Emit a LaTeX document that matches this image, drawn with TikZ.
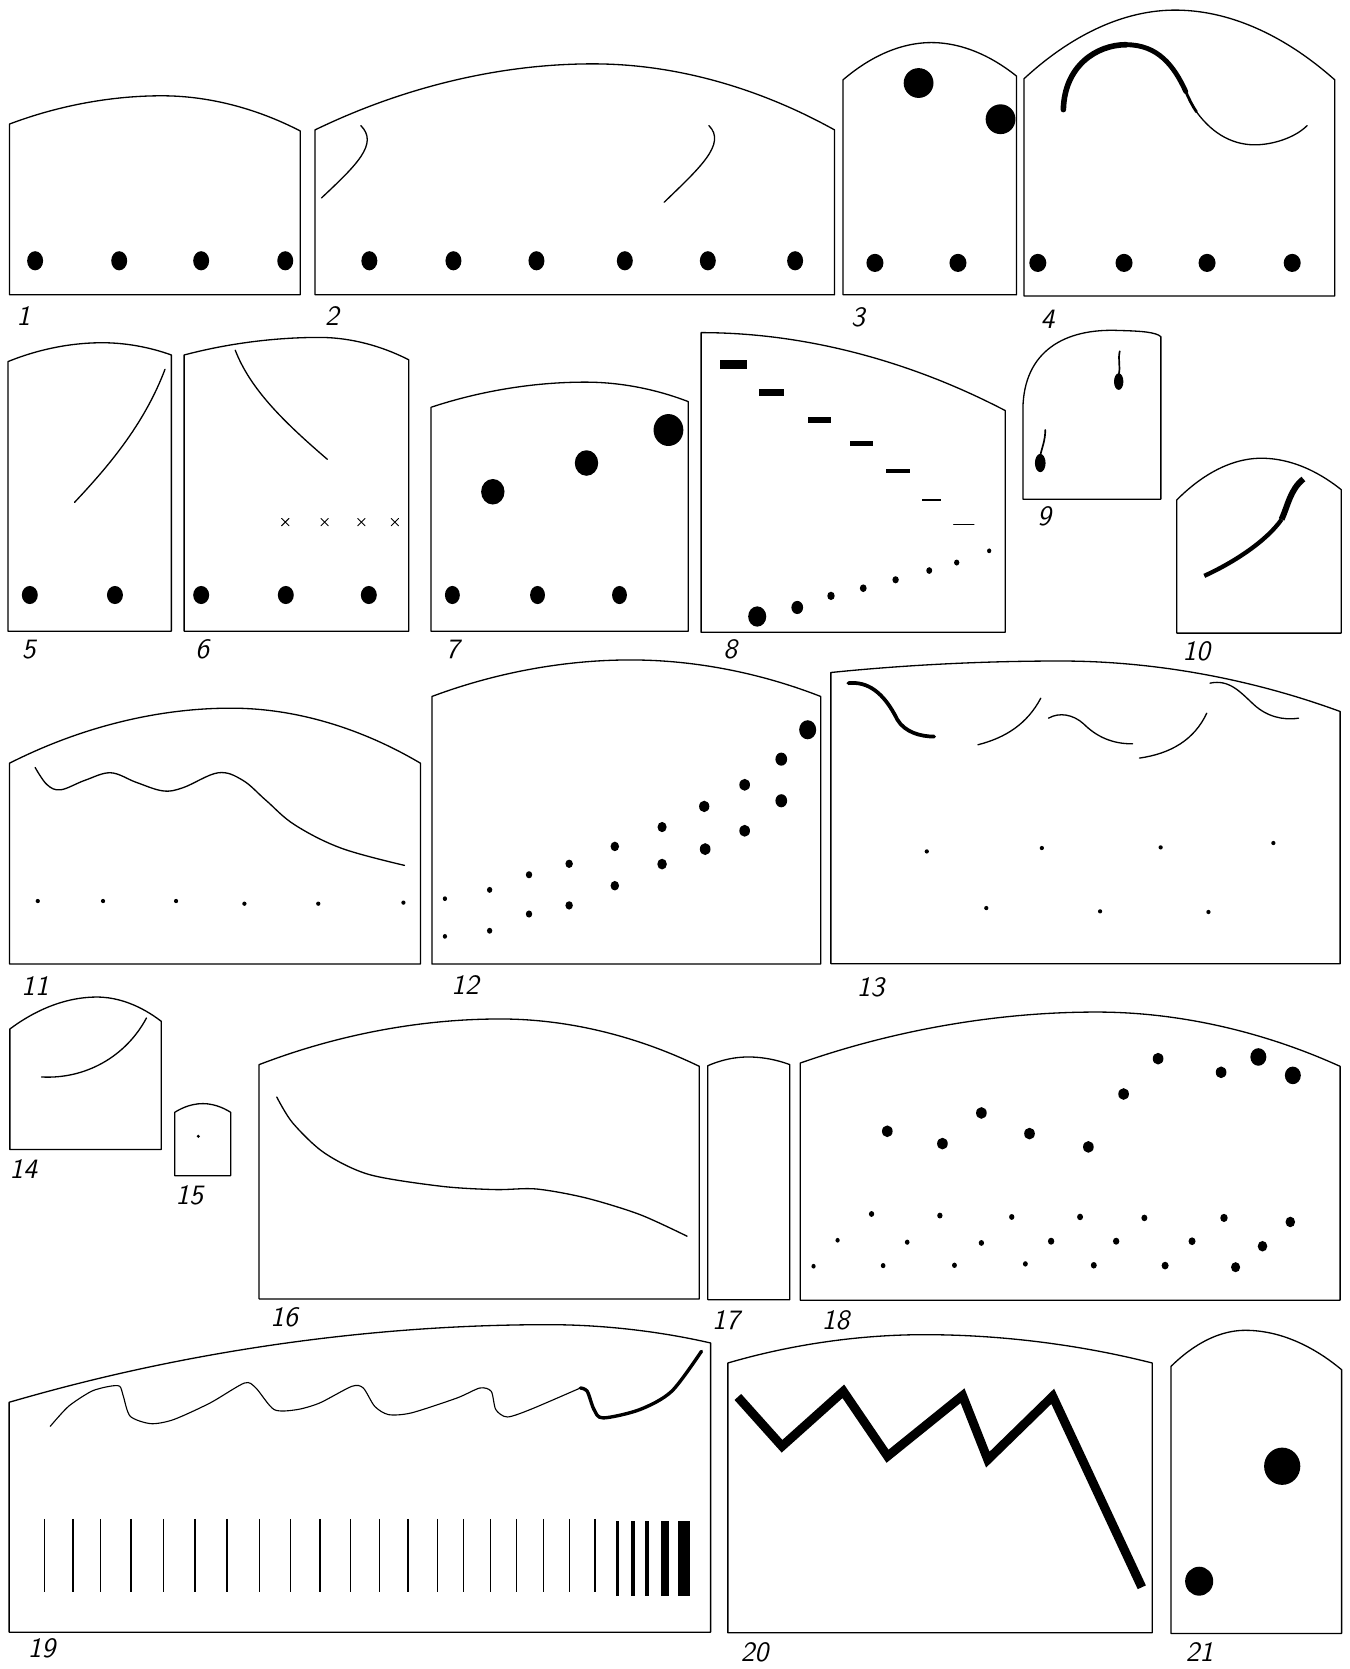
\documentclass[tikz,border=0pt]{standalone}
\usepackage{fontspec}
\usepackage{xcolor}

\begin{document}
\begin{tikzpicture}[
  x=0.02cm,
  y=-0.02cm,
  panelframe/.style={black, line width=0.7pt, line join=round},
  fineline/.style={black, line width=0.7pt, line cap=round},
  heavyline/.style={black, line width=2.6pt, line cap=round},
  blob/.style={fill=black},
  numtag/.style={font=\fontsize{15}{15}\selectfont\sffamily\slshape, inner sep=0pt}
]
\useasboundingbox (0,0) rectangle (1268,1568);

  %% ---- panel 1 ------------------------------------------------------------
  \draw[panelframe] (9,116.5) parabola bend (152,90) (282,123)
    -- (282,277) -- (9,277) -- cycle;
  \foreach \x in {33,112,189,268}
    \fill[blob] (\x,245) ellipse [x radius=7.5, y radius=9];

  %% ---- panel 2 ------------------------------------------------------------
  \draw[panelframe] (296,122) parabola bend (557,60) (784,122)
    -- (784,277) -- (296,277) -- cycle;
  \draw[fineline] (339,118) .. controls (356,135) and (335,155) .. (302,186);
  \draw[fineline] (666,118) .. controls (683,135) and (657,158) .. (624,190);
  \foreach \x in {347,426,504,587,665,747}
    \fill[blob] (\x,245) ellipse [x radius=7.5, y radius=9];

  %% ---- panel 3 ------------------------------------------------------------
  \draw[panelframe] (792,75) parabola bend (875,40) (955,71.5)
    -- (955,277) -- (792,277) -- cycle;
  \fill[blob] (863,78) circle [radius=14];
  \fill[blob] (940,112) circle [radius=14];
  \foreach \x in {822,900}
    \fill[blob] (\x,247) ellipse [x radius=8, y radius=8.5];

  %% ---- panel 4 ------------------------------------------------------------
  \draw[panelframe] (962,74) parabola bend (1104,9.5) (1254,75)
    -- (1254,278) -- (962,278) -- cycle;
  \draw[heavyline, line width=3pt] (999,103) .. controls (1000,62) and (1030,42) .. (1058,42);
  \draw[heavyline] (1058,42) .. controls (1088,42) and (1103,62) .. (1114,86);
  \draw[heavyline, line width=1.5pt] (1114,86) .. controls (1117,93) and (1120,99) .. (1124,105);
  \draw[fineline] (1124,105) .. controls (1140,127) and (1160,137) .. (1182,136)
    .. controls (1200,135) and (1218,128) .. (1228,118);
  \foreach \x in {975,1056,1134,1214}
    \fill[blob] (\x,247) ellipse [x radius=8, y radius=8.5];

  %% ---- panel 5 ------------------------------------------------------------
  \draw[panelframe] (7.5,339.7) parabola bend (96,322) (161,333.5)
    -- (161,593) -- (7.5,593) -- cycle;
  \draw[fineline] (70,472) .. controls (100,440) and (135,400) .. (155,347);
  \foreach \x in {28,108}
    \fill[blob] (\x,559) ellipse [x radius=7.5, y radius=8.5];

  %% ---- panel 6 ------------------------------------------------------------
  \draw[panelframe] (173,333.5) parabola bend (300,317) (384,338)
    -- (384,593) -- (173,593) -- cycle;
  \draw[fineline] (221,329) .. controls (235,365) and (265,395) .. (307.5,431.5);
  \foreach \x in {268,305,339.5,371}
    \draw[fineline, line width=0.5pt] (\x-3.5,487) -- (\x+3.5,494) (\x-3.5,494) -- (\x+3.5,487);
  \foreach \x in {189,268.5,346.5}
    \fill[blob] (\x,559) ellipse [x radius=7.5, y radius=8.5];

  %% ---- panel 7 ------------------------------------------------------------
  \draw[panelframe] (405,382.6) parabola bend (550,359) (646.6,377.3)
    -- (646.6,593) -- (405,593) -- cycle;
  \fill[blob] (463,462) ellipse [x radius=11, y radius=12];
  \fill[blob] (551,435) ellipse [x radius=11, y radius=12];
  \fill[blob] (628,404) ellipse [x radius=14, y radius=15];
  \foreach \x in {425,505,582}
    \fill[blob] (\x,559) ellipse [x radius=7, y radius=8.5];

  %% ---- panel 8 ------------------------------------------------------------
  \draw[panelframe] (658.7,312.5) parabola (944.4,385.7)
    -- (944.4,594) -- (658.7,594) -- cycle;
  \fill[blob] (676,338) rectangle (702,347);
  \fill[blob] (713,365) rectangle (737,372);
  \fill[blob] (759,392) rectangle (781,397);
  \fill[blob] (799,414) rectangle (820,418.6);
  \fill[blob] (832,440.5) rectangle (855,444);
  \fill[blob] (866,468.6) rectangle (884.5,470.8);
  \draw[fineline, line width=0.6pt] (896,492.5) -- (915,492.5);
  \foreach \x/\y/\r in {711.4/579.2/8.5, 749/570.7/5.5, 780.7/559.8/3.5, 811/552.6/3.2,
                        841.4/544.7/3, 873/536/2.8, 898.8/528.5/2.5, 929.3/517.5/2}
    \fill[blob] (\x,\y) ellipse [x radius=\r, y radius=1.12*\r];

  %% ---- panel 9 ------------------------------------------------------------
  \draw[panelframe] (961,383.5) .. controls (962,330) and (1000,308) .. (1052,310.5)
    .. controls (1072,311) and (1086,312) .. (1090.6,316.3)
    -- (1090.6,469) -- (961,469) -- cycle;
  \draw[fineline, line width=0.9pt] (1052,330) .. controls (1050,338) and (1053,344) .. (1051,352);
  \fill[blob] (1051,358.5) ellipse [x radius=4.4, y radius=7.8];
  \draw[fineline, line width=0.9pt] (982,404) .. controls (982,414) and (979,420) .. (977.3,428);
  \fill[blob] (977.3,435) ellipse [x radius=5, y radius=8.6];

  %% ---- panel 10 -----------------------------------------------------------
  \draw[panelframe] (1105.6,469.6) parabola bend (1185,430.5) (1260,460)
    -- (1260,594.8) -- (1105.6,594.8) -- cycle;
  \draw[heavyline, line width=2.3pt, line cap=butt] (1131.4,541)
    .. controls (1160,528) and (1190,508) .. (1204,488);
  \draw[heavyline, line width=3.2pt, line cap=butt] (1204,488)
    .. controls (1210,475) and (1212,460) .. (1224.5,450);

  %% ---- panel 11 -----------------------------------------------------------
  \draw[panelframe] (8.9,717) parabola bend (217,665.3) (395,717)
    -- (395,905.7) -- (8.9,905.7) -- cycle;
  \draw[fineline] plot[smooth, tension=0.6] coordinates {(33,721) (44,737) (57,742)
    (80,733) (104,726) (128,735) (153,743) (172,740) (205,726) (228,733)
    (250,752) (277,775) (321,797) (380,813)};
  \foreach \x/\y in {35.5/846.5, 96.8/846.5, 165.4/846.5, 229.6/849, 299/849, 379/848}
    \fill[blob] (\x,\y) circle [radius=2];

  %% ---- panel 12 -----------------------------------------------------------
  \draw[panelframe] (405.8,654.3) parabola bend (592.4,620) (771,654.3)
    -- (771,905.7) -- (405.8,905.7) -- cycle;
  \foreach \x/\y/\r in {418/844.3/2, 460/836/2.5, 497/821.8/3, 534.7/811.5/3.5,
                        577.6/795.2/4, 622/777/4.3, 661.6/757.6/4.8, 699.6/737.3/5,
                        734/713.2/5.5, 758.8/685.6/8,
                        418/879.7/2, 460/874.4/2.5, 497/858.7/3, 534.7/850.6/3.5,
                        577.6/832.1/4, 622/811.8/4.5, 662.5/797.7/5, 699.6/780.5/5,
                        734/752.3/5.5}
    \fill[blob] (\x,\y) ellipse [x radius=\r, y radius=1.12*\r];

  %% ---- panel 13 -----------------------------------------------------------
  \draw[panelframe] (780.6,631.8) parabola bend (996,621) (1259,668.4)
    -- (1259,905.4) -- (780.6,905.4) -- cycle;
  \draw[heavyline, line width=2pt] (797,641.8) .. controls (815,640) and (830,650) .. (843,676)
    .. controls (850,688) and (865,692) .. (877.6,692);
  \draw[fineline] (918.7,699.7) .. controls (945,693) and (965,680) .. (977.8,655.9);
  \draw[fineline] (985.1,674.7) .. controls (995,669) and (1008,671) .. (1018,680)
    .. controls (1030,692) and (1045,699) .. (1064.1,698.8);
  \draw[fineline] (1070.5,712.2) .. controls (1100,708) and (1122,695) .. (1133.7,670);
  \draw[fineline] (1136.8,641.8) .. controls (1155,638) and (1165,650) .. (1178,662)
    .. controls (1190,673) and (1205,677) .. (1220,674.7);
  \foreach \x/\y in {870.7/799.9, 978.8/796.7, 1090.4/796.1, 1196.3/792,
                     926.6/853.1, 1033.5/856.2, 1135.3/856.8}
    \fill[blob] (\x,\y) circle [radius=2];

  %% ---- panel 14 -----------------------------------------------------------
  \draw[panelframe] (9.3,966.7) parabola bend (91,936.7) (151.5,959.5)
    -- (151.5,1080) -- (9.3,1080) -- cycle;
  \draw[fineline] (39,1011.8) .. controls (80,1014) and (118,993) .. (137.6,956.4);

  %% ---- panel 15 -----------------------------------------------------------
  \draw[panelframe] (164.2,1045) parabola bend (190.5,1036.8) (216.7,1045)
    -- (216.7,1104.5) -- (164.2,1104.5) -- cycle;
  \fill[blob] (186.3,1067.5) circle [radius=1.6];

  %% ---- panel 16 -----------------------------------------------------------
  \draw[panelframe] (243.4,1000.2) parabola bend (470,957.3) (657,1001.8)
    -- (657,1220.3) -- (243.4,1220.3) -- cycle;
  \draw[fineline] plot[smooth] coordinates {(260,1030.6) (275,1055) (304.8,1083.2)
    (347,1103.5) (414.8,1114.5) (465.6,1117.6) (503.7,1117) (550.3,1125.4)
    (601,1141) (645.5,1161.4)};

  %% ---- panel 17 -----------------------------------------------------------
  \draw[panelframe] (665,1001.2) parabola bend (703,993) (742,1000.2)
    -- (742,1221) -- (665,1221) -- cycle;

  %% ---- panel 18 -----------------------------------------------------------
  \draw[panelframe] (751.8,998.7) parabola bend (1030,950.8) (1259,1001.8)
    -- (1259,1221.5) -- (751.8,1221.5) -- cycle;
  \foreach \x/\y/\r in {833.6/1062.8/5, 885.4/1074.4/5, 922/1045.6/5, 967.2/1065/5,
                        1022.5/1077.5/5, 1055.6/1027.8/5, 1088/994.6/5, 1147.2/1007.4/5,
                        1182.2/993/7.5, 1214.6/1010.3/7.5,
                        818.8/1140.5/2.5, 883/1142/2.5, 950.5/1143.3/2.5, 1014.7/1143.3/2.8,
                        1075.1/1144.2/2.8, 1149.9/1144.2/3.5, 1212.2/1148/4.5,
                        786.9/1165.2/2, 852.3/1167/2.2, 922/1167.7/2.5, 987.5/1166.1/3,
                        1048.6/1166.1/3, 1119.9/1166.1/3.3, 1186.1/1170.8/4.5,
                        764.3/1189.6/2, 829.7/1189/2.2, 896.7/1188.7/2.3, 963.3/1187.4/2.3,
                        1027.6/1188.7/2.8, 1094.6/1189/3.3, 1160.8/1190.5/4.3}
    \fill[blob] (\x,\y) ellipse [x radius=\r, y radius=1.1*\r];

  %% ---- panel 19 -----------------------------------------------------------
  \draw[panelframe] (8.6,1317.4) parabola bend (515,1244.5) (667.6,1261.7)
    -- (667.6,1533.4) -- (8.6,1533.4) -- cycle;
  \draw[fineline, line width=0.6pt] plot[smooth, tension=0.45] coordinates {(47.2,1340)
    (64.4,1321.2) (85.9,1307.1) (103,1302.4) (112.5,1302.4) (115.9,1311.8)
    (122.4,1330.6) (141.7,1337.5) (163,1333.7) (197.5,1318) (229.7,1299.3)
    (240.4,1304) (257.6,1324.3) (279,1324.3) (300.5,1318) (330.6,1302.4)
    (341.3,1304) (352,1321.2) (365,1329) (386.4,1327.4) (429.3,1313.4)
    (450.8,1304) (461.5,1307.1) (465.8,1324.3) (476.5,1331.2) (498,1324.3)
    (545.2,1304)};
  \draw[heavyline, line width=1.8pt] plot[smooth, tension=0.5] coordinates {(545.2,1304)
    (551.7,1307.1) (558.1,1324.3) (566.7,1332.1) (601,1324.3) (631,1307.1)
    (659,1269.5)};
  \foreach \x in {41.6,68.7,94.4,123.2,153.3,183.3,213.4,243.8,272.6,300.5,
                  329.3,356.3,383.4,410.8,435.7,460.6,485.1,510.8,535.3,558.9}
    \draw[line width=0.7pt] (\x,1427) -- (\x,1496);
  \foreach \x/\w in {580.4/2.5, 594.6/3.5, 607.5/4, 624.6/7.5, 642.6/10.5}
    \fill[blob] (\x-\w/2,1429) rectangle (\x+\w/2,1499);

  %% ---- panel 20 -----------------------------------------------------------
  \draw[panelframe] (683.8,1280.5) parabola bend (868.5,1253.9) (1082.5,1280.5)
    -- (1082.5,1534) -- (683.8,1534) -- cycle;
  \draw[line width=4.8pt, line join=miter] (693.2,1312.4) -- (734.7,1358.7)
    -- (792.3,1307.1) -- (833.8,1368.1) -- (904.3,1311.2) -- (928,1371.3)
    -- (989,1311.8) -- (1072.7,1491.2);

  %% ---- panel 21 -----------------------------------------------------------
  \draw[panelframe] (1100.2,1283.6) parabola bend (1170,1249.8) (1260.4,1286.8)
    -- (1260.4,1534.6) -- (1100.2,1534.6) -- cycle;
  \fill[blob] (1204.6,1377.5) ellipse [x radius=17, y radius=17.5];
  \fill[blob] (1126.6,1485.5) ellipse [x radius=13.2, y radius=13.6];

  %% ---- numbers ------------------------------------------------------------
  \foreach \x/\y/\lbl in {22/297/1, 312/297/2, 806/298/3, 984/300/4, 27/610/5,
                          190/610/6, 425/610/7, 686/610/8, 981/485/9, 1124/612/10,
                          33/926/11, 437/925/12, 818/928/13, 22/1098/14, 178/1123/15,
                          267/1238/16, 682/1240/17, 785/1240/18, 39/1549/19,
                          709/1552/20, 1127/1552/21}
    \node[numtag] (n\lbl) at (\x,\y) {\lbl};

\end{tikzpicture}
\end{document}
